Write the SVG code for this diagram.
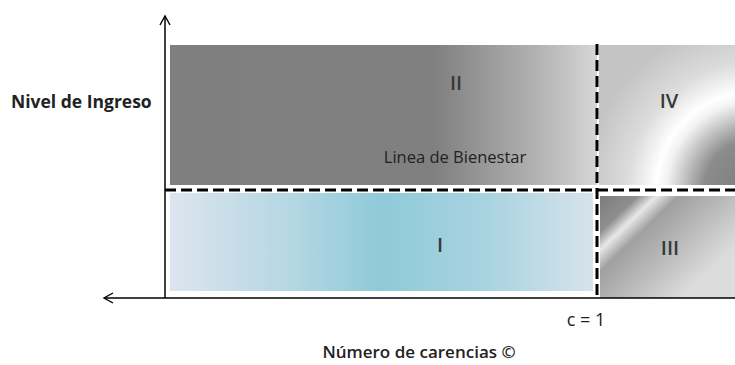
<svg xmlns="http://www.w3.org/2000/svg" width="735" height="365" viewBox="0 0 735 365">
<defs>
<linearGradient id="gII" x1="0" y1="0" x2="1" y2="0">
<stop offset="0" stop-color="#7f7f7f"/>
<stop offset="0.62" stop-color="#808080"/>
<stop offset="0.85" stop-color="#b0b0b0"/>
<stop offset="1" stop-color="#d6d6d6"/>
</linearGradient>
<radialGradient id="gIV" gradientUnits="userSpaceOnUse" cx="755" cy="190" r="170">
<stop offset="0" stop-color="#7a7a7a"/>
<stop offset="0.3" stop-color="#8c8c8c"/>
<stop offset="0.52" stop-color="#f2f2f2"/>
<stop offset="0.58" stop-color="#ffffff"/>
<stop offset="0.75" stop-color="#dcdcdc"/>
<stop offset="1" stop-color="#c4c4c4"/>
</radialGradient>
<linearGradient id="gI" x1="0" y1="0" x2="1" y2="0">
<stop offset="0" stop-color="#dde5ef"/>
<stop offset="0.3" stop-color="#b2d6e2"/>
<stop offset="0.5" stop-color="#8fcad9"/>
<stop offset="0.75" stop-color="#a9d3e0"/>
<stop offset="1" stop-color="#d6e3ec"/>
</linearGradient>
<linearGradient id="gIII" gradientUnits="userSpaceOnUse" x1="600" y1="196" x2="690" y2="290">
<stop offset="0" stop-color="#7c7c7c"/>
<stop offset="0.2" stop-color="#8e8e8e"/>
<stop offset="0.3" stop-color="#e8e8e8"/>
<stop offset="0.42" stop-color="#a0a0a0"/>
<stop offset="0.7" stop-color="#bcbcbc"/>
<stop offset="1" stop-color="#dcdcdc"/>
</linearGradient>
<marker id="open" viewBox="0 0 12 12" refX="10" refY="6" markerWidth="12" markerHeight="12" markerUnits="userSpaceOnUse" orient="auto">
<path d="M1,1 L10,6 L1,11" fill="none" stroke="#000" stroke-width="1.4"/>
</marker>
<style>
.lbl{font-family:"Open Sans","Liberation Sans",sans-serif;fill:#222}
.roman{font-family:"Open Sans","Liberation Sans",sans-serif;font-weight:600;font-size:20px;fill:#343a36;text-anchor:middle}
.axis{stroke:#000;stroke-width:1.5;fill:none}
.dash{stroke:#000;stroke-width:3;stroke-dasharray:11 5;fill:none}
</style>
</defs>
<g id="region-II"><rect x="170" y="45" width="427" height="140" fill="url(#gII)"/><text class="roman" x="456" y="90">II</text><text class="lbl" x="455" y="163" font-size="16.5" text-anchor="middle" fill="#2a2a2a">Linea de Bienestar</text></g>
<g id="region-IV"><rect x="599" y="45" width="136" height="140" fill="url(#gIV)"/><text class="roman" x="669" y="108">IV</text></g>
<g id="region-I"><rect x="170" y="193" width="423" height="98" fill="url(#gI)"/><text class="roman" x="440" y="252">I</text></g>
<g id="region-III"><rect x="600" y="196" width="135" height="102" fill="url(#gIII)"/><text class="roman" x="670" y="255" font-size="18">III</text></g>
<g id="connectors">
<line class="axis" x1="165" y1="298" x2="165" y2="16" marker-end="url(#open)"/>
<line class="axis" x1="735" y1="298" x2="104" y2="298" marker-end="url(#open)"/>
<line class="dash" x1="165" y1="190" x2="735" y2="190"/>
<line class="dash" x1="597" y1="44" x2="597" y2="298"/>
</g>
<g id="labels">
<text class="lbl" x="11" y="108" font-size="17.5" font-weight="bold">Nivel de Ingreso</text>
<text class="lbl" x="586" y="326" font-size="18" text-anchor="middle">c = 1</text>
<text class="lbl" x="419" y="358" font-size="17" font-weight="600" text-anchor="middle">Número de carencias ©</text>
</g>
</svg>
